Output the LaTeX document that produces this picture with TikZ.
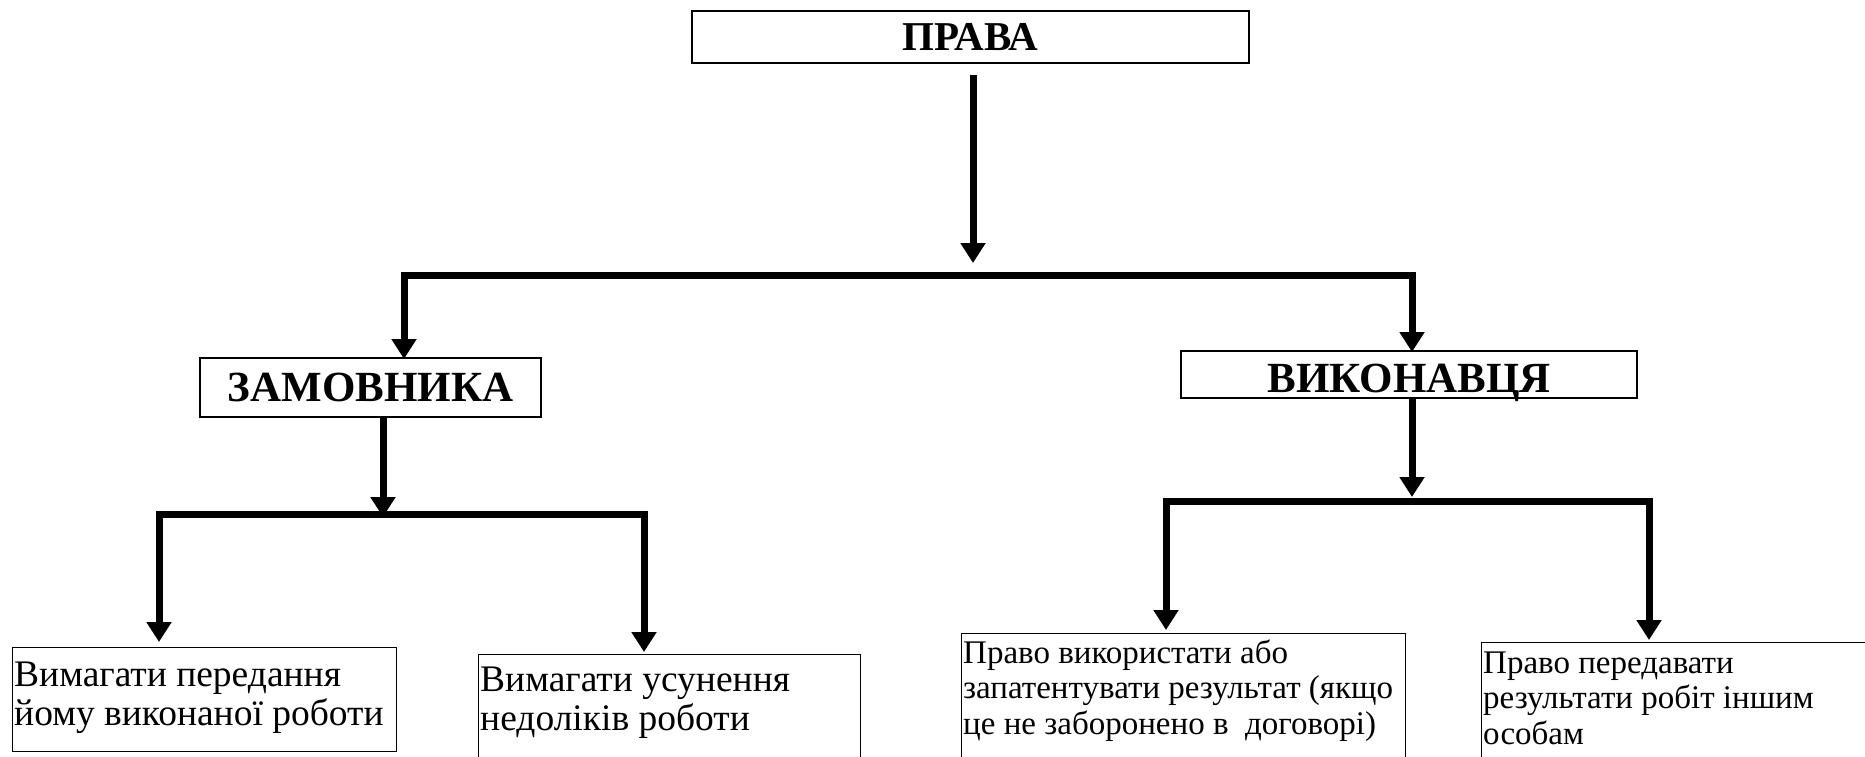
\documentclass[tikz,border=0pt]{standalone}
\usepackage{fontspec}
\setmainfont{Liberation Serif}
\usetikzlibrary{arrows.meta}
\tikzset{
  hdr/.style={draw, line width=1.5pt, inner sep=0pt, font=\fontsize{43}{43}\selectfont\bfseries},
  lowbox/.style={draw, line width=1.3pt, anchor=north west, inner sep=0pt},
  btxtA/.style={anchor=base west, inner sep=0pt, font=\fontsize{37.5}{39}\selectfont},
  btxtB/.style={anchor=base west, inner sep=0pt, font=\fontsize{33}{35.5}\selectfont},
  arr/.style={line width=7pt, -{Triangle[length=20pt,width=24pt]}},
  fork/.style={line width=7pt, {Triangle[length=20pt,width=24pt]}-{Triangle[length=20pt,width=24pt]}}
}
\begin{document}
\begin{tikzpicture}[x=1pt,y=-1pt]
\useasboundingbox (0,0) rectangle (1865,756);
\clip (0,0) rectangle (1865,756);
% header boxes
\node[hdr, font=\fontsize{41}{41}\selectfont\bfseries, minimum width=557pt, minimum height=52pt] (prava) at (970.5,37) {ПРАВА};
\node[hdr, minimum width=341pt, minimum height=59pt] (zam) at (370.5,387.5) {ЗАМОВНИКА};
\node[hdr, minimum width=456pt, minimum height=47pt, text height=36pt, text depth=0pt] (vyk) at (1409,374.5) {ВИКОНАВЦЯ};
% bottom boxes
\node[lowbox, minimum width=384pt, minimum height=104pt] (b1) at (12,647) {};
\node[lowbox, minimum width=382pt, minimum height=200pt] (b2) at (478,654) {};
\node[lowbox, minimum width=444pt, minimum height=200pt] (b3) at (961,633) {};
\node[lowbox, minimum width=500pt, minimum height=200pt] (b4) at (1481,642) {};
\node[btxtA] (t1) at (14,686) {\parbox[t]{400pt}{Вимагати передання\\йому виконаної роботи}};
\node[btxtA] (t2) at (480,691) {\parbox[t]{400pt}{Вимагати усунення\\недоліків роботи}};
\node[btxtB] (t3) at (963,663) {\parbox[t]{460pt}{Право використати або\\запатентувати результат (якщо\\це не заборонено в\ \ договорі)}};
\node[btxtB] (t4) at (1483,673) {\parbox[t]{400pt}{Право передавати\\результати робіт іншим\\особам}};
% coordinates
\coordinate (pravaout) at (973,75);
\coordinate (hub) at (973,263);
\coordinate (zamin) at (404,359);
\coordinate (vykin) at (1412,352);
\coordinate (bar1) at (908,275);
\coordinate (zamarr) at (383,517);
\coordinate (z1) at (159,642);
\coordinate (z2) at (644,652);
\coordinate (zbar) at (400,514);
\coordinate (vykarr) at (1412,497);
\coordinate (v1) at (1166,630);
\coordinate (v2) at (1649,640);
\coordinate (vbar) at (1400,501);
% connectors
\draw[arr] (pravaout) -- (hub);
\draw[fork] (zamin) |- (bar1) -| (vykin);
\draw[arr] (zam.south -| zamarr) -- (zamarr);
\draw[fork] (z1) |- (zbar) -| (z2);
\draw[arr] (vyk.south -| vykarr) -- (vykarr);
\draw[fork] (v1) |- (vbar) -| (v2);
\end{tikzpicture}
\end{document}
